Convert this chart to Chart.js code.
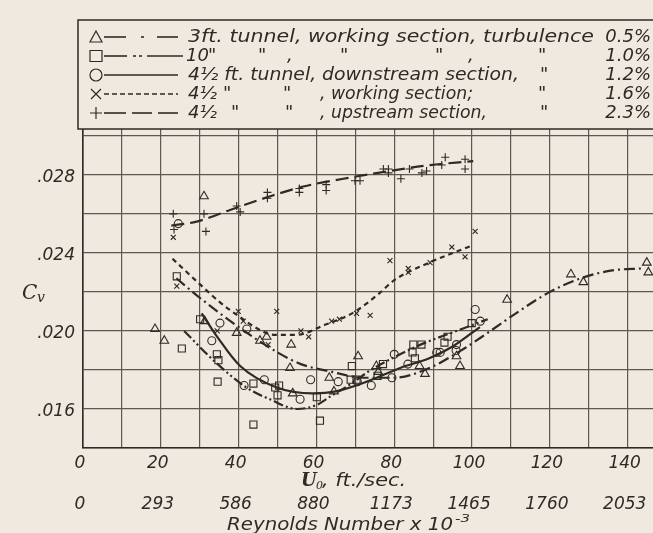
<!DOCTYPE html>
<html>
<head>
<meta charset="utf-8">
<script src="https://cdn.jsdelivr.net/npm/chart.js@4"></script>
<style>
  html, body { margin: 0; padding: 0; background: #efe9df; }
  #wrap { width: 653px; height: 533px; position: relative; overflow: hidden; }
  canvas { display: block; }
</style>
</head>
<body>
<div id="wrap"><canvas id="cv" width="653" height="533"></canvas></div>
<script>
// ---- Measured points: velocity U0 (ft./sec.) and Cv ----
// 3 ft. tunnel, working section, turbulence 0.5 %
const tri3ftU  = [18.5, 20.9, 31.1, 31.3, 39.5, 45.5, 47.2, 53.2, 53.5, 53.9, 63.3, 64.5, 70.7, 75.4, 75.9, 86.5, 87.9, 96.0, 96.9, 109.0, 125.4, 128.6, 144.9, 145.3];
const tri3ftCv = [.0201, .0195, .0269, .0205, .0199, .0195, .0197, .0181, .0193, .0168, .0176, .0169, .0187, .0182, .0179, .0182, .0178, .0187, .0182, .0216, .0229, .0225, .0235, .0230];
// 10 ft. tunnel, working section, 1.0 %
const sq10ftU  = [24.1, 25.4, 30.1, 34.4, 34.8, 34.6, 43.8, 43.8, 49.4, 50.4, 50.0, 60.1, 60.9, 69.1, 68.8, 70.3, 75.7, 77.1, 84.7, 85.3, 84.9, 87.0, 92.9, 93.7, 99.9];
const sq10ftCv = [.0228, .0191, .0206, .0188, .0185, .0174, .0173, .0152, .0171, .0172, .0167, .0166, .0154, .0182, .0175, .0175, .0177, .0183, .0189, .0186, .0193, .0193, .0194, .0197, .0204];
// 4 1/2 ft. tunnel, downstream section, 1.2 %
const circDownU  = [24.5, 33.1, 35.2, 41.4, 42.1, 46.6, 55.8, 58.5, 65.6, 70.5, 74.1, 79.4, 80.0, 83.5, 90.9, 91.8, 95.9, 96.0, 100.8, 102.1];
const circDownCv = [.0255, .0195, .0204, .0172, .0201, .0175, .0165, .0175, .0174, .0174, .0172, .0176, .0188, .0183, .0189, .0189, .0190, .0193, .0211, .0205];
// 4 1/2 ft. tunnel, working section, 1.6 %
const crossWorkU  = [23.2, 24.1, 34.5, 39.9, 41.2, 47.6, 49.8, 56.0, 58.0, 63.9, 65.9, 70.3, 73.8, 78.9, 83.6, 83.6, 89.2, 94.8, 98.2, 100.8];
const crossWorkCv = [.0248, .0223, .0200, .0210, .0205, .0193, .0210, .0200, .0197, .0205, .0206, .0209, .0208, .0236, .0232, .0230, .0235, .0243, .0238, .0251];
// 4 1/2 ft. tunnel, upstream section, 2.3 %
const plusUpU  = [23.2, 23.4, 31.1, 31.6, 39.5, 40.4, 47.4, 47.4, 55.6, 55.6, 62.5, 62.5, 69.9, 71.2, 77.2, 78.5, 78.5, 81.7, 83.9, 87.1, 88.3, 92.2, 93.1, 98.2, 98.2];
const plusUpCv = [.0260, .0252, .0260, .0251, .0264, .0261, .0271, .0268, .0273, .0271, .0275, .0272, .0277, .0277, .0283, .0283, .0281, .0278, .0283, .0281, .0282, .0285, .0289, .0288, .0283];

// ---- Faired curves through each set ----
const curve3ftU   = [24, 30, 40, 50, 56, 64, 72, 80, 89, 98, 104, 112, 120, 128, 136, 143.5];
const curve3ftCv  = [.0227, .0217, .0202, .0189, .0183, .0179, .0176, .0176, .0181, .0191, .0199, .0210, .0220, .0227, .0231, .0232];
const curve10ftU  = [26, 33.5, 42, 48, 55, 60, 64, 69, 74, 81.5, 88, 96, 104];
const curve10ftCv = [.0200, .0185, .0171, .0165, .0160, .0162, .0167, .0173, .0180, .0188, .0194, .0200, .0206];
const curveDownU  = [30.5, 34.5, 40.4, 49.8, 59, 65, 73, 81.5, 89, 95, 102];
const curveDownCv = [.0209, .0197, .0182, .0171, .0168, .0169, .0174, .0181, .0186, .0192, .0202];
const curveWorkU  = [23, 30, 35, 40.4, 45, 49, 55, 62, 66, 70, 76, 80, 89, 100.3];
const curveWorkCv = [.0237, .0224, .0215, .0207, .0201, .0198, .0198, .0203, .0206, .0210, .0219, .0226, .0235, .0244];
const curveUpU    = [22.7, 29.2, 37.8, 48.1, 56.6, 66.9, 78.9, 89.2, 100.3];
const curveUpCv   = [.0254, .0256, .0262, .0269, .0274, .0278, .0282, .0285, .0287];

// ---- Axis labels ----
const speedTickLabels    = ['0', '20', '40', '60', '80', '100', '120', '140'];
const reynoldsTickLabels = ['0', '293', '586', '880', '1173', '1465', '1760', '2053'];
const cvTickValues       = [0.016, 0.020, 0.024, 0.028];
const cvTickLabels       = ['.016', '.020', '.024', '.028'];

const INK   = '#2e2a26';
const GRID  = '#5e5852';
const PAPER = '#efe9df';
const LETTER = '"DejaVu Sans", sans-serif';
const tickFont = { family: '"DejaVu Sans", sans-serif', size: 17, style: 'italic', lineHeight: 1.1 };

const pts = (xs, ys) => xs.map((x, i) => ({ x, y: ys[i] }));

function markerSet(xs, ys, style, radius) {
  return {
    data: pts(xs, ys), showLine: false, pointStyle: style, pointRadius: radius,
    pointBorderColor: INK, pointBackgroundColor: 'rgba(0,0,0,0)', pointBorderWidth: 1.1
  };
}
function curveSet(xs, ys, dash) {
  return {
    data: pts(xs, ys), showLine: true, pointRadius: 0, borderColor: INK, borderWidth: 2.2,
    borderDash: dash, cubicInterpolationMode: 'monotone', fill: false
  };
}

// dash patterns per series
const DASH_3FT  = [11, 4, 2, 4];
const DASH_10FT = [10, 3, 2, 3, 2, 3];
const DASH_DOWN = [];
const DASH_WORK = [5, 4];
const DASH_UP   = [13, 6];

// draw text, optionally stretched/squeezed to a given width
function fitText(ctx, text, x, y, width, align) {
  const w = ctx.measureText(text).width;
  const sx = width ? width / w : 1;
  ctx.save();
  ctx.translate(align === 'right' ? x - w * sx : x, y);
  ctx.scale(sx, 1);
  ctx.fillText(text, 0, 0);
  ctx.restore();
}

function drawMarker(ctx, kind, x, y) {
  ctx.beginPath();
  if (kind === 'triangle') {
    ctx.moveTo(x, y - 6); ctx.lineTo(x + 6, y + 5); ctx.lineTo(x - 6, y + 5); ctx.closePath();
  } else if (kind === 'rect') {
    ctx.rect(x - 6, y - 5.5, 12, 11);
  } else if (kind === 'circle') {
    ctx.arc(x, y, 6, 0, Math.PI * 2);
  } else if (kind === 'crossRot') {
    ctx.moveTo(x - 5, y - 5); ctx.lineTo(x + 5, y + 5); ctx.moveTo(x + 5, y - 5); ctx.lineTo(x - 5, y + 5);
  } else {
    ctx.moveTo(x - 6, y); ctx.lineTo(x + 6, y); ctx.moveTo(x, y - 6); ctx.lineTo(x, y + 6);
  }
  ctx.stroke();
}

const legendRows = [
  { y: 37,  marker: 'triangle', segs: [[104, 126], [141, 144], [157, 178]],
    text: [['3ft. tunnel, working section, turbulence', 188, 406], ['0.5%', 651, 0, 'right']] },
  { y: 56,  marker: 'rect', segs: [[104, 127], [133, 136], [139, 142], [147, 183]],
    text: [['10', 186], ['"', 208], ['"', 258], [',', 287], ['"', 340], ['"', 435], [',', 468], ['"', 538], ['1.0%', 651, 0, 'right']] },
  { y: 75,  marker: 'circle', segs: [[104, 178]],
    text: [['4½ ft. tunnel, downstream section,', 188, 331], ['"', 540], ['1.2%', 651, 0, 'right']] },
  { y: 94,  marker: 'crossRot', dash: [5, 3], segs: [[104, 178]],
    text: [['4½', 188], ['"', 223], ['"', 283], [', working section;', 320, 153], ['"', 538], ['1.6%', 651, 0, 'right']] },
  { y: 113, marker: 'cross', segs: [[104, 126], [132, 152], [158, 178]],
    text: [['4½', 188], ['"', 231], ['"', 285], [', upstream section,', 320, 167], ['"', 540], ['2.3%', 651, 0, 'right']] }
];

const paperPlugin = {
  id: 'paper',
  beforeDraw(chart) {
    const ctx = chart.ctx;
    ctx.save();
    ctx.fillStyle = PAPER;
    ctx.fillRect(0, 0, chart.width, chart.height);
    ctx.restore();
  }
};

const annotationsPlugin = {
  id: 'annotations',
  afterDraw(chart) {
    const ctx = chart.ctx;
    ctx.save();
    // key box
    ctx.fillStyle = PAPER;
    ctx.fillRect(78, 20, 600, 109);
    ctx.strokeStyle = INK;
    ctx.lineWidth = 1.5;
    ctx.strokeRect(78, 20, 600, 109);

    ctx.fillStyle = INK;
    ctx.textBaseline = 'middle';
    ctx.font = 'italic 18px ' + LETTER;
    legendRows.forEach(row => {
      ctx.strokeStyle = INK;
      ctx.lineWidth = 1.2;
      drawMarker(ctx, row.marker, 96, row.y);
      ctx.lineWidth = 1.6;
      if (row.dash) ctx.setLineDash(row.dash);
      row.segs.forEach(s => {
        ctx.beginPath(); ctx.moveTo(s[0], row.y); ctx.lineTo(s[1], row.y); ctx.stroke();
      });
      ctx.setLineDash([]);
      row.text.forEach(t => fitText(ctx, t[0], t[1], row.y, t[2] || 0, t[3]));
    });

    // y-axis title  C_v
    ctx.textBaseline = 'alphabetic';
    ctx.font = 'italic 20px "DejaVu Serif", serif';
    ctx.fillText('C', 22, 299);
    ctx.font = 'italic 14px "DejaVu Serif", serif';
    ctx.fillText('v', 37, 302);

    // velocity axis title  U_0, ft./sec.
    ctx.font = 'bold italic 18px "DejaVu Serif", serif';
    ctx.fillText('U', 301, 486);
    ctx.font = 'italic 11px "DejaVu Serif", serif';
    ctx.fillText('0', 316, 489);
    ctx.font = 'italic 18px ' + LETTER;
    fitText(ctx, ', ft./sec.', 322, 486, 84);

    // Reynolds number axis title
    fitText(ctx, 'Reynolds Number x 10', 227, 530, 226);
    ctx.font = 'italic 11px ' + LETTER;
    fitText(ctx, '-3', 455, 522, 15);
    ctx.restore();
  }
};

// horizontal axes: no extra side padding, so the plot runs to the right edge
function fitHorizontal(height) {
  return s => { s.height = height; s.paddingLeft = 0; s.paddingRight = 0; };
}

new Chart(document.getElementById('cv'), {
  type: 'scatter',
  data: {
    datasets: [
      markerSet(tri3ftU, tri3ftCv, 'triangle', 5),
      markerSet(sq10ftU, sq10ftCv, 'rect', 5),
      markerSet(circDownU, circDownCv, 'circle', 4),
      markerSet(crossWorkU, crossWorkCv, 'crossRot', 3.5),
      markerSet(plusUpU, plusUpCv, 'cross', 4),
      curveSet(curve3ftU, curve3ftCv, DASH_3FT),
      curveSet(curve10ftU, curve10ftCv, DASH_10FT),
      curveSet(curveDownU, curveDownCv, DASH_DOWN),
      curveSet(curveWorkU, curveWorkCv, DASH_WORK),
      curveSet(curveUpU, curveUpCv, DASH_UP)
    ]
  },
  options: {
    responsive: false,
    animation: false,
    events: [],
    layout: { autoPadding: false, padding: { top: 128, left: 0, right: 0, bottom: 0 } },
    plugins: { legend: { display: false }, tooltip: { enabled: false } },
    scales: {
      x: {
        type: 'linear', position: 'bottom', min: 0, max: 146.5,
        grid: { color: GRID, lineWidth: 1.2, drawTicks: false },
        border: { color: INK, width: 1.6 },
        ticks: {
          stepSize: 10, includeBounds: false, autoSkip: false, maxRotation: 0,
          padding: 6, labelOffset: -3, color: INK, font: tickFont,
          callback: (v, i) => (i % 2 === 0 ? speedTickLabels[i / 2] : '')
        },
        afterFit: fitHorizontal(47)
      },
      x2: {
        type: 'linear', position: 'bottom', min: 0, max: 146.5,
        grid: { display: false, drawTicks: false },
        border: { display: false },
        ticks: {
          stepSize: 20, includeBounds: false, autoSkip: false, maxRotation: 0,
          padding: 0, labelOffset: -3, color: INK, font: tickFont,
          callback: (v, i) => reynoldsTickLabels[i]
        },
        afterFit: fitHorizontal(38)
      },
      y: {
        type: 'linear', position: 'left', min: 0.014, max: 0.0304,
        grid: { color: GRID, lineWidth: 1.2, drawTicks: false },
        border: { color: INK, width: 1.6 },
        ticks: {
          stepSize: 0.002, includeBounds: false, padding: 8, labelOffset: 3,
          color: INK, font: tickFont,
          callback: v => {
            const i = cvTickValues.findIndex(t => Math.abs(t - v) < 1e-6);
            return i >= 0 ? cvTickLabels[i] : '';
          }
        },
        afterFit: s => { s.width = 83; s.paddingTop = 0; s.paddingBottom = 0; }
      }
    }
  },
  plugins: [paperPlugin, annotationsPlugin]
});
</script>
</body>
</html>
